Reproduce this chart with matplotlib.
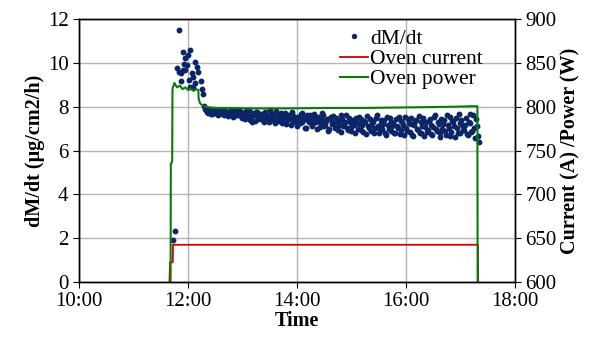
import numpy as np
import matplotlib
matplotlib.use('Agg')
import matplotlib.pyplot as plt

plt.rcParams['font.family'] = ['Liberation Serif', 'DejaVu Serif']

# time in decimal hours
# dM/dt, start-up burst (irregular times)
burst_t = [11.73, 11.76, 11.79, 11.83, 11.835, 11.87, 11.87, 11.90, 11.91, 11.93,
           11.945, 11.95, 11.975, 12.00, 12.02, 12.04, 12.04, 12.07, 12.10, 12.10,
           12.12, 12.12, 12.16, 12.19, 12.23, 12.26, 12.27, 12.29, 12.31]
burst_v = [1.93, 2.31, 9.76, 11.49, 9.60, 9.53, 9.18, 10.49, 9.68, 9.94,
           10.24, 9.68, 9.91, 10.35, 9.20, 10.58, 8.92, 9.53, 9.35, 8.92,
           10.03, 9.10, 9.83, 9.60, 9.15, 8.80, 8.58, 8.05, 7.90]

# dM/dt, steady part, even minutes from 12:20
even_start = 12 + 20 / 60
even_v = [
    7.85, 7.72, 7.80, 7.68, 7.75, 7.83, 7.66, 7.78, 7.70, 7.82,
    7.64, 7.76, 7.58, 7.81, 7.69, 7.55, 7.74, 7.87, 7.62, 7.71,
    7.48, 7.66, 7.79, 7.52, 7.40, 7.70, 7.60, 7.35, 7.75, 7.58,
    7.45, 7.68, 7.30, 7.62, 7.50, 7.83, 7.38, 7.57, 7.25, 7.66,
    7.48, 7.72, 7.36, 7.55, 7.20, 7.64, 7.42, 7.78, 7.30, 7.52,
    7.12, 7.46, 7.68, 7.28, 7.55, 7.05, 7.40, 7.62, 7.18, 7.35,
    7.50, 6.98, 7.42, 7.25, 7.70, 7.10, 7.33, 6.90, 7.48, 7.20,
    7.58, 7.02, 7.36, 7.15, 6.85, 7.45, 7.22, 7.62, 6.95, 7.30,
    7.08, 7.40, 6.80, 7.25, 7.55, 6.92, 7.18, 7.35, 6.75, 7.12,
    7.45, 6.88, 7.28, 7.05, 7.60, 6.82, 7.20, 6.98, 7.38, 6.70,
    7.15, 7.48, 6.90, 7.25, 6.78, 7.10, 7.52, 6.95, 7.30, 6.72,
    7.05, 7.42, 6.85, 7.20, 6.68, 7.35, 7.00, 7.58, 6.80, 7.12,
    6.65, 7.28, 6.95, 7.45, 6.75, 7.08, 7.62, 6.88, 7.22, 6.60,
    7.00, 7.40, 6.72, 7.15, 7.55, 6.85, 7.30, 6.62, 7.05, 7.65,
    6.78, 7.18, 6.92, 7.50, 6.70, 7.25, 6.85, 7.60, 6.55, 7.10,
    6.40,
]
# dM/dt, odd minutes from 12:21
odd_start = 12 + 21 / 60
odd_v = [
    7.78, 7.88, 7.65, 7.74, 7.86, 7.70, 7.62, 7.80, 7.76, 7.68,
    7.79, 7.60, 7.72, 7.66, 7.84, 7.57, 7.69, 7.63, 7.80, 7.52,
    7.70, 7.42, 7.62, 7.85, 7.55, 7.32, 7.64, 7.74, 7.46, 7.68,
    7.60, 7.38, 7.75, 7.52, 7.28, 7.70, 7.58, 7.44, 7.80, 7.34,
    7.62, 7.26, 7.50, 7.70, 7.40, 7.58, 7.15, 7.66, 7.45, 7.35,
    7.55, 7.25, 7.72, 7.38, 7.02, 7.60, 7.30, 7.48, 7.10, 7.65,
    7.30, 7.55, 7.08, 7.38, 7.62, 7.18, 7.45, 7.00, 7.52, 7.32,
    7.25, 7.48, 6.92, 7.40, 7.60, 7.12, 7.28, 7.05, 7.50, 6.88,
    7.32, 7.15, 7.50, 6.98, 7.22, 7.42, 6.85, 7.30, 7.58, 7.02,
    7.18, 7.35, 6.80, 7.48, 7.10, 6.95, 7.40, 7.22, 6.78, 7.52,
    6.98, 7.30, 7.12, 6.82, 7.42, 7.05, 6.75, 7.35, 7.18, 7.55,
    6.90, 7.25, 7.50, 6.72, 7.15, 7.40, 6.95, 6.82, 7.30, 7.48,
    7.08, 6.85, 7.35, 7.18, 6.70, 7.52, 7.00, 7.28, 6.78, 7.42,
    7.22, 6.90, 7.60, 7.05, 6.68, 7.35, 7.12, 7.48, 6.82, 7.25,
    7.40, 6.95, 7.15, 6.75, 7.30, 7.68, 6.88, 7.05, 7.45, 6.65,
]
step = 2 / 60
even_t = even_start + step * np.arange(len(even_v))
odd_t = odd_start + step * np.arange(len(odd_v))

# oven current (A)
cur_t = [11.66, 11.67, 11.72, 11.725, 17.32, 17.325]
cur_v = [0.0, 0.9, 0.9, 1.70, 1.70, 0.0]

# oven power (W)
pow_t = [11.68, 11.685, 11.71, 11.715, 11.75, 11.80, 11.85, 11.90, 11.95, 12.00,
         12.05, 12.10, 12.15, 12.19, 12.195, 12.22, 12.26, 12.32, 12.40, 12.55,
         12.80, 13.20, 13.80, 14.50, 15.20, 15.80, 16.40, 16.90, 17.20, 17.31,
         17.315]
pow_v = [600, 735, 737, 820, 827, 822, 824, 820, 822, 819,
         821, 818, 820, 819, 809, 804, 801.5, 800, 799, 798.5,
         798.5, 798, 798, 798.5, 798.5, 799, 799.5, 800, 800.5, 800.5,
         600]

xtick_pos = [10, 12, 14, 16, 18]
xtick_lab = ['10:00', '12:00', '14:00', '16:00', '18:00']

fig = plt.figure(figsize=(5.95, 3.42), dpi=100)
ax = fig.add_axes([0.1328, 0.1754, 0.7327, 0.769])
ax2 = ax.twinx()

dm_t = np.concatenate([burst_t, even_t, odd_t])
dm_v = np.concatenate([burst_v, even_v, odd_v])
ax.plot(dm_t, dm_v, 'o', color='#0b2566', markersize=3.2, label='dM/dt', zorder=3)
ax.plot(cur_t, cur_v, color='#cc0000', lw=1.3, label='Oven current', zorder=2)
ax2.plot(pow_t, pow_v, color='#0a7a0a', lw=1.5, label='Oven power', zorder=2)

ax.set_xlim(10, 18)
ax.set_ylim(0, 12)
ax2.set_ylim(600, 900)
ax.set_xticks(xtick_pos)
ax.set_xticklabels(xtick_lab)
ax.set_yticks(range(0, 13, 2))
ax2.set_yticks(range(600, 901, 50))
ax.grid(True, color='#b4b4b4', lw=1.0)
ax.set_axisbelow(True)

for a in (ax, ax2):
    a.tick_params(labelsize=15, direction='out', length=4, width=0.8)
    for s in a.spines.values():
        s.set_linewidth(1.0)

ax.set_xlabel('Time', fontsize=14.5, fontweight='bold', labelpad=0)
ax.set_ylabel('dM/dt (μg/cm2/h)', fontsize=14.5, fontweight='bold', labelpad=2)
ax2.set_ylabel('Current (A) /Power (W)', fontsize=14.5, fontweight='bold', labelpad=3)

h1, l1 = ax.get_legend_handles_labels()
h2, l2 = ax2.get_legend_handles_labels()
ax2.legend(h1 + h2, l1 + l2, loc='upper left', bbox_to_anchor=(0.578, 0.995),
           frameon=False, fontsize=15.5, handlelength=1.3, handletextpad=0.12,
           labelspacing=0.0, borderaxespad=0, markerscale=0.9)

fig.savefig('out.png', dpi=100)
